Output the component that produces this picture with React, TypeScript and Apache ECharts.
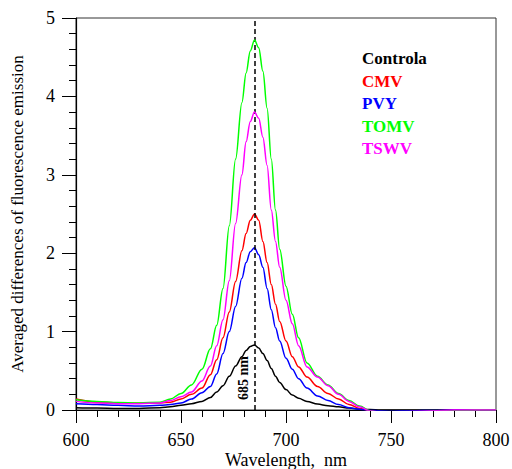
import React, { useEffect, useRef } from "react";
import * as echarts from "echarts";

const wavelengths = [600, 610, 620, 630, 640, 645, 650, 655, 660, 664, 667, 670, 673, 676, 679, 681, 683, 685, 687, 689, 691, 693, 695, 697, 700, 703, 706, 710, 715, 720, 725, 730, 735, 740, 745, 750, 755, 760, 770, 780, 790, 800];

const controla = [0.03, 0.025, 0.02, 0.02, 0.03, 0.04, 0.06, 0.08, 0.11, 0.16, 0.23, 0.31, 0.43, 0.56, 0.68, 0.76, 0.81, 0.83, 0.79, 0.72, 0.63, 0.53, 0.43, 0.35, 0.26, 0.19, 0.15, 0.11, 0.075, 0.055, 0.04, 0.025, 0.01, 0.005, 0, 0, 0, 0, 0, 0, 0, 0];
const cmv = [0.14, 0.10, 0.09, 0.085, 0.09, 0.10, 0.14, 0.20, 0.28, 0.45, 0.64, 0.92, 1.25, 1.64, 2.03, 2.25, 2.42, 2.50, 2.42, 2.15, 1.88, 1.6, 1.35, 1.13, 0.88, 0.68, 0.55, 0.42, 0.30, 0.21, 0.14, 0.07, 0.02, -0.01, -0.02, -0.025, -0.02, -0.015, -0.01, 0, 0, 0];
const pvy = [0.08, 0.07, 0.06, 0.05, 0.06, 0.07, 0.09, 0.14, 0.22, 0.30, 0.46, 0.72, 1.0, 1.32, 1.68, 1.88, 2.02, 2.07, 1.98, 1.82, 1.55, 1.28, 1.05, 0.88, 0.66, 0.52, 0.40, 0.28, 0.18, 0.12, 0.07, 0.03, 0.01, -0.005, -0.01, -0.015, -0.01, -0.01, -0.005, 0, 0, 0];
const tomv = [0.13, 0.11, 0.095, 0.09, 0.10, 0.14, 0.21, 0.32, 0.52, 0.78, 1.08, 1.55, 2.35, 3.2, 3.92, 4.30, 4.58, 4.72, 4.62, 4.32, 3.85, 3.2, 2.55, 2.05, 1.58, 1.22, 0.92, 0.60, 0.43, 0.32, 0.21, 0.12, 0.05, -0.01, -0.04, -0.055, -0.045, -0.03, -0.015, -0.01, 0, 0];
const tswv = [0.11, 0.09, 0.08, 0.08, 0.09, 0.12, 0.17, 0.23, 0.37, 0.56, 0.82, 1.15, 1.65, 2.38, 3.0, 3.42, 3.68, 3.80, 3.72, 3.48, 3.12, 2.55, 2.15, 1.82, 1.40, 1.1, 0.82, 0.55, 0.42, 0.31, 0.2, 0.11, 0.04, -0.01, -0.03, -0.035, -0.03, -0.02, -0.01, 0, 0, 0];

const seriesNames = ["Controla", "CMV", "PVY", "TOMV", "TSWV"];
const seriesColors = ["#000000", "#ff0000", "#0000ff", "#00ff00", "#ff00ff"];
const seriesValues = [controla, cmv, pvy, tomv, tswv];
const peakWavelength = 685;
const peakLabel = "685 nm";

const FONT = "'Liberation Serif', serif";

export default function App() {
  const ref = useRef<HTMLDivElement>(null);
  useEffect(() => {
    if (!ref.current) return;
    const chart = echarts.init(ref.current, null, { renderer: "svg" });
    const series: any[] = seriesNames.map((name, i) => ({
      name,
      type: "line",
      data: wavelengths.map((w, j) => [w, seriesValues[i][j]]),
      showSymbol: false,
      smooth: 0.35,
      smoothMonotone: "x",
      lineStyle: { color: seriesColors[i], width: 1.5 },
      itemStyle: { color: seriesColors[i] },
      z: 2 + i,
    }));
    series[0].markLine = {
      silent: true,
      symbol: ["none", "none"],
      lineStyle: { type: [5, 3], color: "#000", width: 1.5 },
      label: {
        show: true,
        position: "insideStartTop",
        formatter: peakLabel,
        fontFamily: FONT,
        fontWeight: "bold",
        fontSize: 14,
        color: "#000",
        distance: [10, 4],
      },
      data: [{ xAxis: peakWavelength }],
    };
    chart.setOption({
      animation: false,
      textStyle: { fontFamily: FONT },
      grid: { left: 76, right: 16, top: 18, bottom: 59, show: true, borderColor: "#333", borderWidth: 1, outerBoundsMode: "none", containLabel: false },
      legend: {
        data: seriesNames.map((n, i) => ({ name: n, textStyle: { color: seriesColors[i] } })),
        orient: "vertical",
        left: 357,
        top: 50,
        padding: 0,
        itemGap: 5.5,
        itemWidth: 0,
        itemHeight: 0,
        icon: "none",
        selectedMode: false,
        textStyle: { fontFamily: FONT, fontWeight: "bold", fontSize: 17, lineHeight: 17 },
      },
      xAxis: {
        type: "value",
        min: 600,
        max: 800,
        interval: 50,
        name: "Wavelength,  nm",
        nameLocation: "middle",
        nameGap: 41,
        nameMoveOverlap: false,
        nameTextStyle: { fontFamily: FONT, fontSize: 18, color: "#000" },
        axisLine: { lineStyle: { color: "#000", width: 1.2 } },
        axisTick: { show: true, inside: false, length: 13, lineStyle: { color: "#000", width: 1 } },
        minorTick: { show: true, splitNumber: 5, length: 7, lineStyle: { color: "#000", width: 1 } },
        axisLabel: { fontFamily: FONT, fontSize: 18, color: "#000", margin: 21 },
        splitLine: { show: false },
      },
      yAxis: {
        type: "value",
        min: 0,
        max: 5,
        interval: 1,
        name: "Averaged differences of fluorescence emission",
        nameLocation: "middle",
        nameGap: 50,
        nameMoveOverlap: false,
        nameTextStyle: { fontFamily: FONT, fontSize: 17, color: "#000" },
        axisLine: { show: true, lineStyle: { color: "#000", width: 1.2 } },
        axisTick: { show: true, inside: false, length: 14, lineStyle: { color: "#000", width: 1 } },
        minorTick: { show: true, splitNumber: 5, length: 7, lineStyle: { color: "#000", width: 1 } },
        axisLabel: { fontFamily: FONT, fontSize: 18, color: "#000", margin: 21 },
        splitLine: { show: false },
      },
      series,
    });
    return () => chart.dispose();
  }, []);
  return <div ref={ref} style={{ position: "fixed", left: 0, top: 0, width: 512, height: 469, background: "#fff" }} />;
}
